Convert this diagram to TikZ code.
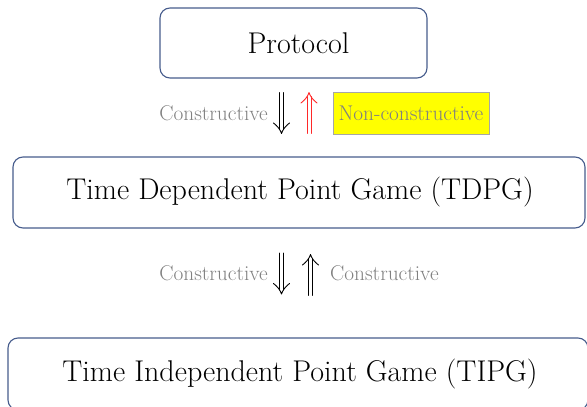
\documentclass[tikz,border=0pt]{standalone}
\definecolor{boxline}{RGB}{70,92,140}
\definecolor{lbl}{RGB}{128,128,128}
\definecolor{arrred}{RGB}{255,40,40}
\definecolor{hl}{RGB}{255,255,0}
\begin{document}
\begin{tikzpicture}[x=1pt,y=-1pt,
  bigbox/.style={draw=boxline, line width=1.1pt, rounded corners=10pt, inner sep=0pt,
    font=\fontsize{30}{36}\selectfont},
  lab/.style={text=lbl, inner sep=0pt, font=\fontsize{21.3}{25}\selectfont},
  arrline/.style={line width=0.9pt, line cap=round, line join=round},
  pics/dnarr/.style={code={
    \draw[arrline] (-2,-20.5) -- (-2,16.5);
    \draw[arrline] (2,-20.5) -- (2,16.5);
    \draw[arrline] (-8,10) .. controls (-4,13) and (-1,17) .. (0,20.5)
                           .. controls (1,17) and (4,13) .. (8,10);
  }},
]
\useasboundingbox (0,0) rectangle (587,407);
\node[bigbox, minimum width=267pt, minimum height=70pt] (p) at (293.5,43) {\hspace{10pt}Protocol};
\node[bigbox, minimum width=572pt, minimum height=71pt] (t) at (299,192.5) {\hspace{2pt}Time Dependent Point Game (TDPG)};
\node[bigbox, minimum width=580pt, minimum height=72pt] (i) at (298,374) {\hspace{4pt}Time Independent Point Game (TIPG)};
% first pair
\pic (a1) at (281.5,113) {dnarr};
\pic[arrred, yscale=-1] (a2) at (309,113) {dnarr};
\node[lab, anchor=east] (c1) at (268,113) {Constructive};
\node[lab, fill=hl, draw=lbl!70, line width=0.5pt, minimum width=156pt, minimum height=42pt] (nc) at (411,113) {Non-constructive};
% second pair
\pic (a3) at (281.5,273.5) {dnarr};
\pic[yscale=-1] (a4) at (310.5,275) {dnarr};
\node[lab, anchor=east] (c2) at (268,273) {Constructive};
\node[lab, anchor=west] (c3) at (330,273) {Constructive};
\end{tikzpicture}
\end{document}
